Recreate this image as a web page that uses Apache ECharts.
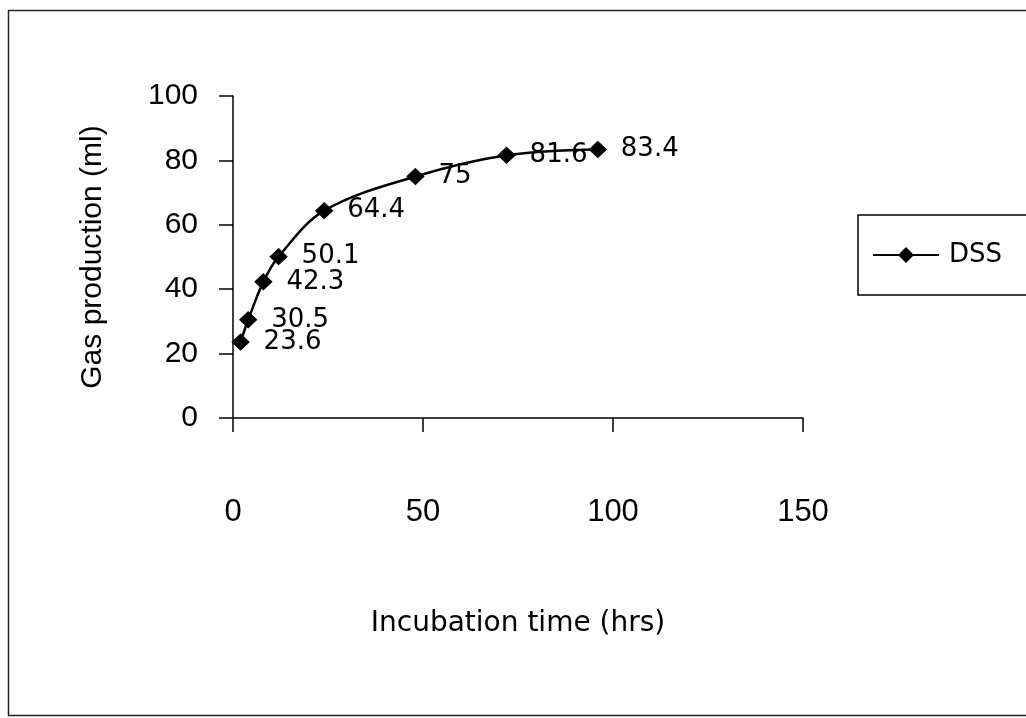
<!DOCTYPE html>
<html>
<head>
<meta charset="utf-8">
<script src="https://cdn.jsdelivr.net/npm/echarts@6/dist/echarts.min.js"></script>
<style>
html,body{margin:0;padding:0;background:#fff;}
#chart{width:1026px;height:718px;}
</style>
</head>
<body>
<div id="chart"></div>
<script>
var hours = [2, 4, 8, 12, 24, 48, 72, 96];
var gasDSS = [23.6, 30.5, 42.3, 50.1, 64.4, 75, 81.6, 83.4];
var seriesName = 'DSS';
var xTicks = [0, 50, 100, 150];
var yTicks = [0, 20, 40, 60, 80, 100];

var arial = 'Liberation Sans, Arial, sans-serif';
var wide = 'DejaVu Sans, Verdana, sans-serif';
var chart = echarts.init(document.getElementById('chart'));
var pts = hours.map(function (h, i) { return [h, gasDSS[i]]; });

chart.setOption({
  backgroundColor: '#fff',
  animation: false,
  graphic: [{
    type: 'rect',
    shape: { x: 8.5, y: 10.5, width: 1040, height: 705 },
    style: { fill: 'none', stroke: '#222', lineWidth: 1.5 },
    silent: true
  }],
  grid: { left: 233, right: 223, top: 96, bottom: 300, containLabel: false },
  legend: {
    data: [seriesName],
    left: 858, top: 215,
    orient: 'vertical',
    borderColor: '#000', borderWidth: 1.5,
    padding: [27, 40, 27, 14],
    itemWidth: 66, itemHeight: 20, itemGap: 0,
    textStyle: { fontFamily: wide, fontSize: 26, color: '#000', padding: [0, 0, 0, 5] }
  },
  xAxis: {
    type: 'value', min: xTicks[0], max: xTicks[xTicks.length - 1], interval: 50,
    name: 'Incubation time (hrs)', nameLocation: 'middle', nameGap: 192,
    nameTextStyle: { fontFamily: wide, fontSize: 28, color: '#000' },
    axisLine: { show: true, onZero: false, lineStyle: { color: '#000', width: 1.5 } },
    axisTick: { show: true, length: 14, lineStyle: { color: '#000', width: 1.5 } },
    axisLabel: { fontFamily: arial, fontSize: 31, color: '#000', margin: 79 },
    splitLine: { show: false }
  },
  yAxis: {
    type: 'value', min: yTicks[0], max: yTicks[yTicks.length - 1], interval: 20,
    name: 'Gas production (ml)', nameLocation: 'middle', nameGap: 125,
    nameTextStyle: { fontFamily: arial, fontSize: 30, color: '#000' },
    axisLine: { show: true, lineStyle: { color: '#000', width: 1.5 } },
    axisTick: { show: true, length: 14, lineStyle: { color: '#000', width: 1.5 } },
    axisLabel: { fontFamily: arial, fontSize: 30, color: '#000', margin: 35 },
    splitLine: { show: false }
  },
  series: [{
    name: seriesName,
    type: 'line',
    data: pts,
    smooth: 0.35,
    symbol: 'diamond',
    symbolSize: [17, 16],
    lineStyle: { color: '#000', width: 2.5 },
    itemStyle: { color: '#000', borderColor: '#000' },
    label: {
      show: true, position: 'right', distance: 14,
      fontFamily: wide, fontSize: 26, color: '#000',
      formatter: function (p) { return p.value[1]; }
    }
  }]
});
</script>
</body>
</html>
